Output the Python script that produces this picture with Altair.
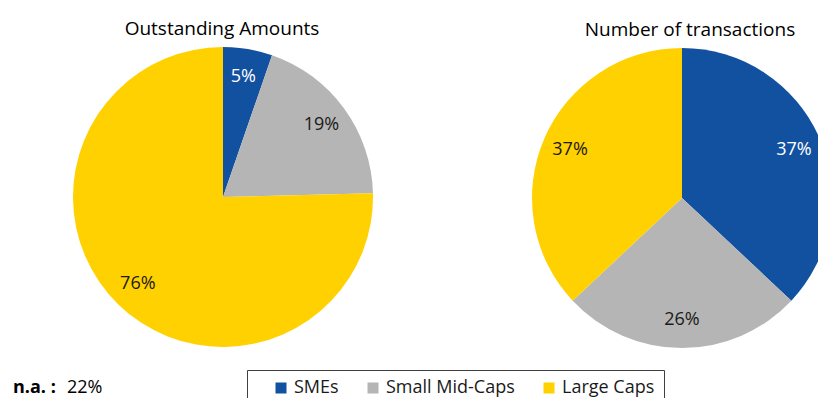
import altair as alt
import pandas as pd

categories = ["SMEs", "Small Mid-Caps", "Large Caps"]
colors = ["#1250A0", "#B5B5B5", "#FFD100"]
label_colors = ["#FFFFFF", "#1A1A1A", "#1A1A1A"]

amounts_values = [5.3, 19.3, 75.4]
amounts_labels = ["5%", "19%", "76%"]
trans_values = [37.0, 26.0, 37.0]
trans_labels = ["37%", "26%", "37%"]

titles = ["Outstanding Amounts", "Number of transactions"]
na_label = "n.a. :"
na_value = "22%"

FONT = "Open Sans"

rows = []
for pie, vals, labs in [("amounts", amounts_values, amounts_labels),
                        ("transactions", trans_values, trans_labels)]:
    for i, (c, v, l) in enumerate(zip(categories, vals, labs)):
        rows.append({"pie": pie, "category": c, "value": v, "label": l,
                     "idx": i, "tcolor": label_colors[i]})
df = pd.DataFrame(rows)

color_scale = alt.Scale(domain=categories, range=colors)

def pie_layers(name, cx, cy, show_legend):
    base = alt.Chart(df).transform_filter(alt.datum.pie == name)
    arc = base.mark_arc(outerRadius=150, stroke=None).encode(
        theta=alt.Theta("value:Q", stack=True),
        order=alt.Order("idx:Q"),
        color=alt.Color("category:N", scale=color_scale,
                        legend=alt.Legend(title=" ") if show_legend else None),
        x=alt.value(cx), y=alt.value(cy),
    )
    txt = base.mark_text(radius=122, font=FONT, fontSize=18).encode(
        theta=alt.Theta("value:Q", stack=True),
        order=alt.Order("idx:Q"),
        text="label:N",
        color=alt.Color("tcolor:N", scale=None),
        x=alt.value(cx), y=alt.value(cy),
    )
    return [arc, txt]

title_df = pd.DataFrame({"t": titles, "idx": [0, 1]})
t1 = alt.Chart(title_df).transform_filter(alt.datum.idx == 0).mark_text(
    font=FONT, fontSize=19, color="#000").encode(
    text="t:N", x=alt.value(214), y=alt.value(21))
t2 = alt.Chart(title_df).transform_filter(alt.datum.idx == 1).mark_text(
    font=FONT, fontSize=19, color="#000").encode(
    text="t:N", x=alt.value(682), y=alt.value(22))

na_df = pd.DataFrame({"a": [na_label], "b": [na_value]})
na1 = alt.Chart(na_df).mark_text(font=FONT, fontSize=18, fontWeight="bold",
                                 align="left", color="#000").encode(
    text="a:N", x=alt.value(5), y=alt.value(380))
na2 = alt.Chart(na_df).mark_text(font=FONT, fontSize=18, align="left",
                                 color="#000").encode(
    text="b:N", x=alt.value(59), y=alt.value(380))

layers = pie_layers("amounts", 215, 189, True) + pie_layers("transactions", 674, 190, False)
chart = alt.layer(*layers, t1, t2, na1, na2).properties(
    width=810, height=390, padding=0,
    autosize=alt.AutoSizeParams(type="none"),
).configure_view(stroke=None).configure_legend(
    orient="none", legendX=239, legendY=362, direction="horizontal",
    strokeColor="#404040", strokeWidth=1, padding=9,
    titleOrient="left", titleFontSize=1, titlePadding=16,
    symbolType="square", symbolSize=121, symbolStrokeWidth=0,
    labelFont=FONT, labelFontSize=18, labelColor="#1A1A1A",
    columnPadding=25, labelOffset=4,
)

chart.save("out.html", embed_options={"renderer": "svg", "actions": False})
